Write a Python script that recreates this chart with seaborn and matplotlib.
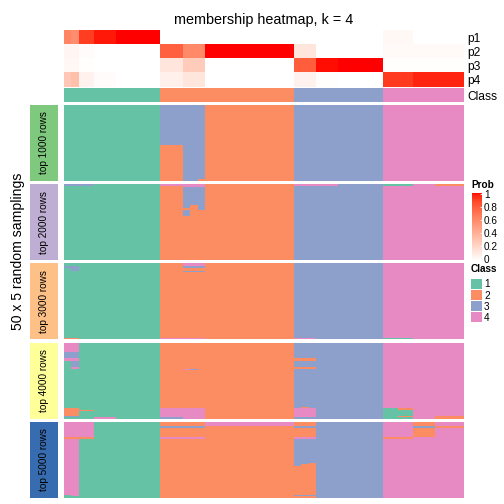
import numpy as np
import matplotlib
matplotlib.use("Agg")
import matplotlib.pyplot as plt
import matplotlib as mpl
from matplotlib.colors import ListedColormap, Normalize
import seaborn as sns

plt.rcParams['font.family'] = ['Liberation Sans', 'DejaVu Sans']

# consensus classes of the 54 samples (columns)
classes = [1, 2, 3, 4]
class_sizes = [13, 18, 12, 11]
class_colors = ["#66C2A5", "#FC8D62", "#8DA0CB", "#E78AC3"]

# membership probabilities (top annotation)
p1 = [.62, .58, .9, .9, .98, .98, .98, 1, 1, 1, 1, 1, 1,
      0, 0, 0, 0, 0, 0, 0, 0, 0, 0, 0, 0, 0, 0, 0, 0, 0, 0,
      0, 0, 0, 0, 0, 0, 0, 0, 0, 0, 0, 0,
      .04, .04, .04, .04, 0, 0, 0, 0, 0, 0, 0]
p2 = [.05, .05, .02, .02, 0, 0, 0, 0, 0, 0, 0, 0, 0,
      .78, .78, .78, .6, .6, .6, 1, 1, 1, 1, 1, 1, 1, 1, 1, 1, 1, 1,
      .14, .14, .14, 0, 0, 0, 0, 0, 0, 0, 0, 0,
      .03, .03, .03, .03, .03, .03, .03, .03, .03, .03, .03]
p3 = [.04, .04, .01, .01, 0, 0, 0, 0, 0, 0, 0, 0, 0,
      .14, .14, .14, .27, .27, .27, 0, 0, 0, 0, 0, 0, 0, 0, 0, 0, 0, 0,
      .79, .79, .79, .99, .99, .99, 1, 1, 1, 1, 1, 1,
      .01, .01, .01, .01, .01, .01, .01, .01, .01, .01, .01]
p4 = [.29, .33, .07, .07, .02, .02, .02, 0, 0, 0, 0, 0, 0,
      .08, .08, .08, .13, .13, .13, 0, 0, 0, 0, 0, 0, 0, 0, 0, 0, 0, 0,
      .07, .07, .07, .01, .01, .01, 0, 0, 0, 0, 0, 0,
      .91, .91, .91, .91, .96, .96, .96, .96, .96, .96, .96]

top_n = [1000, 2000, 3000, 4000, 5000]
topn_colors = ["#7FC97F", "#BEAED4", "#FDC086", "#FFFF99", "#386CB0"]
n_samplings = 50

# deviations from the consensus class: (row from, row to, col from, col to, class)
patches_1000 = [(0, 25, 13, 15, 3), (0, 49, 16, 17, 3), (0, 48, 18, 18, 3)]
patches_2000 = [(0, 0, 0, 3, 3), (0, 0, 13, 15, 4), (0, 1, 16, 18, 4),
                (2, 15, 16, 16, 3), (17, 20, 16, 16, 3), (2, 13, 17, 17, 3),
                (2, 16, 18, 18, 3), (0, 0, 31, 36, 4), (0, 0, 43, 46, 1),
                (0, 0, 50, 53, 2)]
patches_3000 = [(2, 2, 0, 1, 3), (3, 4, 1, 1, 3), (49, 49, 0, 1, 2),
                (0, 1, 16, 18, 4), (2, 2, 16, 18, 3), (5, 5, 16, 18, 3),
                (49, 49, 13, 18, 4), (49, 49, 31, 33, 4), (49, 49, 43, 46, 1)]
patches_4000 = [(0, 5, 0, 1, 4), (6, 9, 0, 1, 3), (10, 11, 0, 1, 4),
                (12, 15, 1, 1, 3), (16, 16, 1, 1, 4), (43, 47, 0, 1, 2),
                (44, 44, 2, 3, 2), (48, 48, 0, 1, 3), (49, 49, 4, 6, 4),
                (17, 17, 16, 16, 4), (17, 17, 17, 17, 3), (43, 49, 13, 18, 4),
                (49, 49, 13, 15, 3), (10, 11, 31, 33, 2), (16, 16, 31, 33, 2),
                (42, 42, 32, 32, 2), (43, 48, 31, 33, 4), (43, 49, 43, 44, 1),
                (43, 43, 45, 46, 2), (44, 47, 45, 46, 1), (48, 48, 45, 46, 2),
                (49, 49, 45, 46, 1), (48, 49, 50, 53, 2)]
patches_5000 = [(0, 9, 0, 3, 4), (10, 10, 0, 3, 2), (11, 47, 0, 1, 4),
                (48, 48, 1, 1, 4), (3, 3, 13, 18, 3), (10, 10, 13, 18, 4),
                (0, 2, 19, 30, 4), (0, 2, 31, 33, 2), (4, 9, 31, 33, 2),
                (10, 10, 31, 33, 4), (29, 47, 31, 31, 2), (28, 47, 32, 32, 2),
                (27, 47, 33, 33, 2), (49, 49, 31, 33, 2), (10, 10, 43, 46, 2),
                (0, 2, 47, 49, 2), (3, 3, 47, 49, 3), (4, 9, 47, 49, 2),
                (3, 3, 50, 53, 2)]
all_patches = [patches_1000, patches_2000, patches_3000, patches_4000, patches_5000]


def lab_white_red(n=256):
    # white -> red interpolated in LAB, like colorRamp2
    t = np.linspace(0, 1, n)
    L = 100 + t * (53.24 - 100)
    a = t * 80.09
    b = t * 67.20
    fy = (L + 16) / 116
    fx = fy + a / 500
    fz = fy - b / 200
    finv = lambda f: np.where(f > 6 / 29, f ** 3, 3 * (6 / 29) ** 2 * (f - 4 / 29))
    X, Y, Z = 0.95047 * finv(fx), finv(fy), 1.08883 * finv(fz)
    M = np.array([[3.2406, -1.5372, -0.4986], [-0.9689, 1.8758, 0.0415], [0.0557, -0.2040, 1.0570]])
    rgb = M @ np.vstack([X, Y, Z])
    rgb = np.clip(rgb, 0, 1)
    rgb = np.where(rgb <= 0.0031308, 12.92 * rgb, 1.055 * rgb ** (1 / 2.4) - 0.055)
    return ListedColormap(np.clip(rgb.T, 0, 1))


prob_cmap = lab_white_red()
class_cmap = ListedColormap(class_colors)

base = np.repeat(classes, class_sizes)


def block_matrix(patches):
    m = np.tile(base, (n_samplings, 1))
    for r0, r1, c0, c1, k in patches:
        m[r0:r1 + 1, c0:c1 + 1] = k
    return m


W = H = 504
fig = plt.figure(figsize=(7, 7), dpi=72)


def px_axes(x0, y0, x1, y1):
    return fig.add_axes([x0 / W, 1 - y1 / H, (x1 - x0) / W, (y1 - y0) / H])


def right_labels(ax, size):
    ax.yaxis.tick_right()
    ax.tick_params(axis='y', length=0, pad=2.5, labelsize=size, labelrotation=0)


X0, X1 = 64, 464.5

fig.text(264 / W, 1 - 24 / H, "membership heatmap, k = 4", ha='center', va='baseline', fontsize=14.4)

ax = px_axes(X0, 30, X1, 86.6)
sns.heatmap(np.array([p1, p2, p3, p4]), ax=ax, cmap=prob_cmap, vmin=0, vmax=1, cbar=False,
            xticklabels=False, yticklabels=["p1", "p2", "p3", "p4"])
right_labels(ax, 12)

ax = px_axes(X0, 88.3, X1, 101.7)
sns.heatmap(base.reshape(1, -1), ax=ax, cmap=class_cmap, vmin=0.5, vmax=4.5, cbar=False,
            xticklabels=False, yticklabels=["Class"])
right_labels(ax, 12)

block_tops = [105, 184.1, 263.3, 342.9, 421.9]
block_h = 76
for top, n, col, patches in zip(block_tops, top_n, topn_colors, all_patches):
    ax = px_axes(X0, top, X1, top + block_h)
    sns.heatmap(block_matrix(patches), ax=ax, cmap=class_cmap, vmin=0.5, vmax=4.5, cbar=False,
                xticklabels=False, yticklabels=False)
    lax = px_axes(30, top, 58, top + block_h)
    lax.set_facecolor(col)
    lax.set_xticks([])
    lax.set_yticks([])
    for s in lax.spines.values():
        s.set_visible(False)
    lax.text(0.5, 0.5, f"top {n} rows", rotation=90, ha='center', va='center',
             fontsize=10, transform=lax.transAxes)

fig.text(18.5 / W, 1 - 251 / H, "50 x 5 random samplings", rotation=90,
         ha='center', va='center', fontsize=14)

# Prob legend
fig.text(471 / W, 1 - 185 / H, "Prob", fontweight='bold', fontsize=10, va='center', ha='left')
cax = px_axes(471.5, 192.5, 481.5, 261)
cb = mpl.colorbar.ColorbarBase(cax, cmap=prob_cmap, norm=Normalize(-0.025, 1.025),
                               orientation='vertical')
cb.outline.set_visible(False)
cb.set_ticks([0, 0.2, 0.4, 0.6, 0.8, 1])
cb.set_ticklabels(["0", "0.2", "0.4", "0.6", "0.8", "1"])
cax.tick_params(direction='in', color='white', length=2.5, width=0.8, labelsize=10, pad=2.5)

# Class legend
fig.text(470.3 / W, 1 - 269.5 / H, "Class", fontweight='bold', fontsize=10, va='center', ha='left')
lg = px_axes(470, 277.8, 481.5, 322.5)
sns.heatmap(np.array(classes).reshape(-1, 1), ax=lg, cmap=class_cmap, vmin=0.5, vmax=4.5,
            cbar=False, linewidths=1, linecolor='white', xticklabels=False,
            yticklabels=[str(c) for c in classes])
right_labels(lg, 10)

fig.savefig("out.png", dpi=72)
